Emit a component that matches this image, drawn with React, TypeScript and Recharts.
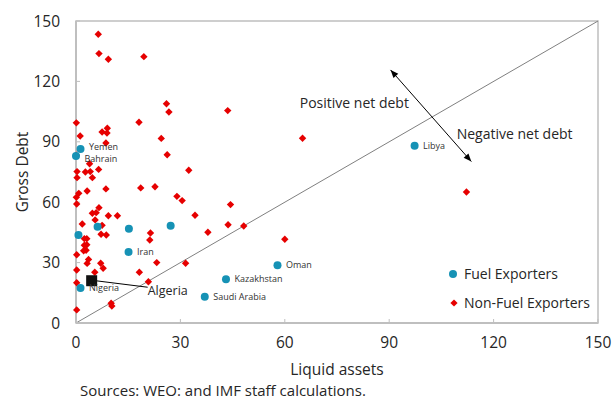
import {
  Legend,
  LabelList,
  ReferenceArea,
  ReferenceDot,
  ReferenceLine,
  Scatter,
  ScatterChart,
  XAxis,
  YAxis,
} from "recharts";

const FONT = "'Open Sans', 'Noto Sans', sans-serif";
const BLUE = "#1692b5";
const RED = "#e60000";
const GRID = "#bfbfbf";
const TEXT = "#262626";

// axis ticks
const xTicks = [0, 30, 60, 90, 120, 150];
const yTicks = [0, 30, 60, 90, 120, 150];

// fuel exporters (labels only on the named ones)
const fuelNames = ["Yemen", "Bahrain", "Libya", "Oman", "Kazakhstan", "Saudi Arabia", "Nigeria", "Iran", "", "", "", ""];
const fuelLiquid = [1.3, 0, 97.3, 57.9, 43.1, 37.0, 1.3, 15.1, 0.7, 6.2, 15.2, 27.2];
const fuelDebt = [86.4, 82.9, 88.1, 28.7, 21.7, 13.1, 17.4, 35.3, 43.7, 47.8, 46.8, 48.3];

// Algeria highlighted separately
const algeriaName = "Algeria";
const algeriaLiquid = 4.5;
const algeriaDebt = 21;

// non-fuel exporters
const nonFuelLiquid = [
  6.4, 6.6, 9.3, 19.5, 26.0, 26.7, 0.1, 18.1, 1.2, 7.5, 9.0, 8.9, 24.5, 8.6, 3.9, 0.1, 0.3, 2.7, 4.1, 6.5,
  26.2, 4.7, 0.3, 32.4, 8.6, 3.2, 0.8, 0.1, 0.2, 18.6, 22.7, 29.0, 30.5, 6.6, 4.7, 5.8, 9.3, 11.9, 5.5, 34.2,
  1.8, 7.5, 7.2, 8.7, 2.4, 3.1, 21.4, 21.2, 2.4, 3.1, 2.2, 2.9, 0.2, 3.6, 3.2, 7.1, 31.5, 23.2, 7.8, 5.4,
  0.2, 0.2, 0.2, 10.1, 10.3, 18.2, 20.8, 43.6, 44.4, 65.1, 43.7, 48.2, 37.9, 60.0, 112.2,
];
const nonFuelDebt = [
  143.4, 133.8, 131.0, 132.3, 108.9, 104.8, 99.4, 99.7, 92.9, 94.9, 96.7, 94.4, 91.7, 89.4, 79.1, 83.3, 75.2, 75.0, 75.2, 76.3,
  83.6, 72.2, 72.2, 75.9, 66.6, 65.6, 64.4, 62.4, 59.1, 67.1, 67.7, 62.9, 60.8, 57.3, 54.5, 54.8, 53.3, 53.3, 51.2, 53.5,
  49.2, 48.5, 44.1, 43.7, 41.9, 41.9, 44.7, 41.2, 38.6, 38.9, 35.9, 36.1, 33.9, 31.6, 29.6, 29.7, 29.7, 30.0, 27.2, 25.2,
  26.3, 20.0, 6.5, 9.8, 8.4, 25.2, 20.5, 105.5, 58.8, 91.8, 48.8, 48.2, 45.1, 41.6, 65.1,
];

const seriesNames = ["Fuel Exporters", "Non-Fuel Exporters"];

const fuelData = fuelNames.map((name, i) => ({ name, x: fuelLiquid[i], y: fuelDebt[i] }));
const nonFuelData = nonFuelLiquid.map((x, i) => ({ x, y: nonFuelDebt[i] }));
const algeriaData = [{ name: algeriaName, x: algeriaLiquid, y: algeriaDebt }];

const diamond = (p: any) => {
  const { cx, cy } = p;
  const d = 3.7;
  return <polygon points={`${cx},${cy - d} ${cx + d},${cy} ${cx},${cy + d} ${cx - d},${cy}`} fill={RED} />;
};

const dot = (p: any) => <circle cx={p.cx} cy={p.cy} r={4} fill={BLUE} />;

const algeriaShape = (p: any) => {
  const { cx, cy } = p;
  return (
    <g>
      <line x1={cx + 4} y1={cy} x2={cx + 56} y2={cy + 6.5} stroke="#000" strokeWidth={1} />
      <rect x={cx - 5.5} y={cy - 5.5} width={11} height={11} fill="#111" />
      <text x={cx + 56} y={cy + 14} fontSize={12.5} fontFamily={FONT} fill={TEXT}>
        {p.payload.name}
      </text>
    </g>
  );
};

// small labels beside the fuel exporter dots, Yemen/Bahrain pulled apart a little
const fuelLabel = (p: any) => {
  const { x, y, width, height, value } = p;
  if (!value) return null;
  const dy = value === "Bahrain" ? 3 : value === "Yemen" ? -2 : 0;
  return (
    <text x={x + width + 4} y={y + height / 2 + dy} dy="0.35em" fontSize={9} fontFamily={FONT} fill="#333">
      {value}
    </text>
  );
};

const arrowShape = (p: any) => {
  const { x1, y1, x2, y2 } = p;
  const len = Math.hypot(x2 - x1, y2 - y1);
  const ux = (x2 - x1) / len;
  const uy = (y2 - y1) / len;
  const h = 8;
  const w = 3.2;
  const head = (tx: number, ty: number, dx: number, dy: number) =>
    `${tx},${ty} ${tx - dx * h - dy * w},${ty - dy * h + dx * w} ${tx - dx * h + dy * w},${ty - dy * h - dx * w}`;
  return (
    <g>
      <line x1={x1} y1={y1} x2={x2} y2={y2} stroke="#000" strokeWidth={1} />
      <polygon points={head(x2, y2, ux, uy)} fill="#000" />
      <polygon points={head(x1, y1, -ux, -uy)} fill="#000" />
    </g>
  );
};

const legendContent = () => (
  <div style={{ fontFamily: FONT, fontSize: 14, color: TEXT }}>
    <div style={{ display: "flex", alignItems: "center", height: 29 }}>
      <svg width={16} height={12}>
        <circle cx={7} cy={6} r={4} fill={BLUE} />
      </svg>
      <span style={{ marginLeft: 2 }}>{seriesNames[0]}</span>
    </div>
    <div style={{ display: "flex", alignItems: "center", height: 29 }}>
      <svg width={16} height={12}>
        <polygon points="8,2.4 11.6,6 8,9.6 4.4,6" fill={RED} />
      </svg>
      <span style={{ marginLeft: 2 }}>{seriesNames[1]}</span>
    </div>
  </div>
);

export default function App() {
  return (
    <div style={{ position: "absolute", left: 0, top: 0, width: 613, height: 400, background: "#fff", fontFamily: FONT }}>
      <ScatterChart width={613} height={384} margin={{ top: 21, right: 15, bottom: 0, left: 0 }}>
        <ReferenceArea x1={0} x2={150} y1={0} y2={150} fill="none" stroke={GRID} strokeWidth={1.5} />
        <XAxis
          type="number"
          dataKey="x"
          domain={[0, 150]}
          ticks={xTicks}
          height={61}
          tickSize={-4}
          tickMargin={18}
          axisLine={{ stroke: GRID, strokeWidth: 2 }}
          tickLine={{ stroke: GRID }}
          tick={{ fill: TEXT, fontSize: 15.5, fontFamily: FONT }}
          label={{ value: "Liquid assets", position: "insideBottom", offset: 9, fill: TEXT, fontSize: 15.5, fontFamily: FONT }}
        />
        <YAxis
          type="number"
          dataKey="y"
          domain={[0, 150]}
          ticks={yTicks}
          width={76}
          tickSize={-4}
          tickMargin={20}
          axisLine={{ stroke: GRID, strokeWidth: 2 }}
          tickLine={{ stroke: GRID }}
          tick={{ fill: TEXT, fontSize: 15.5, fontFamily: FONT }}
          label={{
            value: "Gross Debt",
            angle: -90,
            position: "insideLeft",
            offset: 22,
            fill: TEXT,
            fontSize: 15.5,
            fontFamily: FONT,
            style: { textAnchor: "middle" },
          }}
        />
        <ReferenceLine segment={[{ x: 0, y: 0 }, { x: 150, y: 150 }]} stroke="#808080" strokeWidth={1} />
        <ReferenceLine segment={[{ x: 90.4, y: 125.7 }, { x: 113.6, y: 80.2 }]} shape={arrowShape} />
        <ReferenceDot
          x={64.3}
          y={109.3}
          r={0}
          fill="none"
          stroke="none"
          label={{ value: "Positive net debt", position: "right", offset: 0, fill: TEXT, fontSize: 14, fontFamily: FONT }}
        />
        <ReferenceDot
          x={109.4}
          y={93.9}
          r={0}
          fill="none"
          stroke="none"
          label={{ value: "Negative net debt", position: "right", offset: 0, fill: TEXT, fontSize: 14, fontFamily: FONT }}
        />
        <Scatter name={seriesNames[1]} data={nonFuelData} shape={diamond} isAnimationActive={false} />
        <Scatter name={seriesNames[0]} data={fuelData} shape={dot} isAnimationActive={false}>
          <LabelList dataKey="name" content={fuelLabel} />
        </Scatter>
        <Scatter name={algeriaName} data={algeriaData} shape={algeriaShape} isAnimationActive={false} />
        <Legend
          layout="vertical"
          align="center"
          verticalAlign="middle"
          content={legendContent}
          wrapperStyle={{ left: 446, top: 259, width: 170 }}
        />
      </ScatterChart>
      <div
        style={{
          position: "absolute",
          left: 80,
          top: 382,
          fontSize: 15,
          lineHeight: "16px",
          color: TEXT,
          fontFamily: FONT,
          whiteSpace: "nowrap",
        }}
      >
        Sources: WEO: and IMF staff calculations.
      </div>
    </div>
  );
}
